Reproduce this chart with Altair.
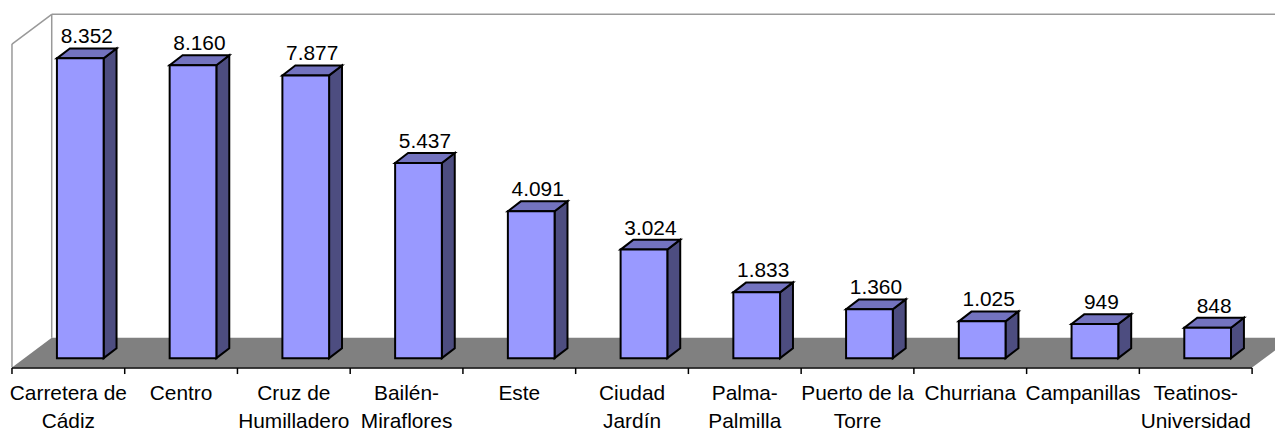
import altair as alt
import pandas as pd

categories = ["Carretera de\nCádiz", "Centro", "Cruz de\nHumilladero", "Bailén-\nMiraflores", "Este",
              "Ciudad\nJardín", "Palma-\nPalmilla", "Puerto de la\nTorre", "Churriana", "Campanillas",
              "Teatinos-\nUniversidad"]
values = [8352, 8160, 7877, 5437, 4091, 3024, 1833, 1360, 1025, 949, 848]

# ---- geometry (page pixels -> data units) ----
W, H = 1275, 427
X0, CAT = 12.0, 113.45      # floor front-left x, px per category
BASE, K = 359.0, 0.03612    # bar base (front plane) y, px per unit


def u(px):
    return (px - X0) / CAT


def v(py):
    return (BASE - py) / K


DU = u(X0 + 13) - u(X0)     # bar depth in x
DV = 10 / K                 # bar depth in y
HW = 23.5 / CAT             # bar half width
SHIFT = 12 / CAT            # bar plane shift vs floor front

xs = alt.Scale(domain=[u(8), u(8 + W)], nice=False, zero=False)
ys = alt.Scale(domain=[v(8 + H), v(8)], nice=False, zero=False)
FONT = "Liberation Sans"
FS = 21

# ---- bars ----
bars = pd.DataFrame({"i": range(len(values)), "val": values})
bars["uc"] = bars["i"] + 0.5 + SHIFT
bars["x0"] = bars["uc"] - HW
bars["x1"] = bars["uc"] + HW
bars["label"] = [f"{x:,}".replace(",", ".") for x in values]
bars["lx"] = bars["uc"] + DU / 2
bars["ly"] = bars["val"] + DV
bars["zero"] = 0.0

side_rows, top_rows = [], []
for _, r in bars.iterrows():
    side_rows.append({"b": r.i, "x": r.x1, "y": r.val, "y2": 0.0})
    side_rows.append({"b": r.i, "x": r.x1 + DU, "y": r.val + DV, "y2": DV})
    top_rows.append({"b": r.i, "y": r.val, "x": r.x0, "x2": r.x1})
    top_rows.append({"b": r.i, "y": r.val + DV, "x": r.x0 + DU, "x2": r.x1 + DU})
side = pd.DataFrame(side_rows)
top = pd.DataFrame(top_rows)

SW = 2.0
front = alt.Chart(bars).mark_rect(fill="#9999FF", stroke="black", strokeWidth=SW).encode(
    x=alt.X("x0:Q", scale=xs, axis=None), x2="x1:Q",
    y=alt.Y("zero:Q", scale=ys, axis=None), y2="val:Q")
side_m = alt.Chart(side).mark_area(fill="#4D4D80", stroke="black", strokeWidth=SW, opacity=1,
                                   strokeJoin="miter").encode(
    x=alt.X("x:Q", scale=xs, axis=None), y=alt.Y("y:Q", scale=ys, axis=None), y2="y2:Q",
    detail="b:N")
top_m = alt.Chart(top).mark_area(orient="horizontal", fill="#7373BF", stroke="black", strokeWidth=SW,
                                 opacity=1, strokeJoin="miter").encode(
    y=alt.Y("y:Q", scale=ys, axis=None), x=alt.X("x:Q", scale=xs, axis=None), x2="x2:Q",
    detail="b:N")
vlabels = alt.Chart(bars).mark_text(font=FONT, fontSize=FS, baseline="alphabetic", dy=-5,
                                    color="black").encode(
    x=alt.X("lx:Q", scale=xs, axis=None), y=alt.Y("ly:Q", scale=ys, axis=None), text="label:N")

# ---- walls & floor ----
n = len(values)
floor = pd.DataFrame([
    {"y": v(368.5), "x": u(12), "x2": u(1260)},
    {"y": v(338.5), "x": u(52), "x2": u(1300)},
])
floor_m = alt.Chart(floor).mark_area(orient="horizontal", fill="#808080", opacity=1, clip=True).encode(
    y=alt.Y("y:Q", scale=ys, axis=None), x=alt.X("x:Q", scale=xs, axis=None), x2="x2:Q")

walls = pd.DataFrame([
    {"x": u(52), "y": v(13), "x2": u(1290), "y2": v(13)},
    {"x": u(52), "y": v(13), "x2": u(52), "y2": v(338.5)},
    {"x": u(12), "y": v(43), "x2": u(52), "y2": v(13)},
    {"x": u(12), "y": v(43), "x2": u(12), "y2": v(368.5)},
])
walls_m = alt.Chart(walls).mark_rule(color="#999999", strokeWidth=1.5, clip=True).encode(
    x=alt.X("x:Q", scale=xs, axis=None), y=alt.Y("y:Q", scale=ys, axis=None), x2="x2:Q", y2="y2:Q")

axis = pd.DataFrame([{"x": u(12), "y": v(369), "x2": u(12) + n, "y2": v(369)}] +
                    [{"x": float(j), "y": v(369), "x2": float(j), "y2": v(375)} for j in range(n + 1)])
axis_m = alt.Chart(axis).mark_rule(color="black", strokeWidth=1.5).encode(
    x=alt.X("x:Q", scale=xs, axis=None), y=alt.Y("y:Q", scale=ys, axis=None), x2="x2:Q", y2="y2:Q")

lab_rows = []
for i, c in enumerate(categories):
    for j, line in enumerate(c.split("\n")):
        lab_rows.append({"x": i + 0.5, "y": v(400.7 + 28.6 * j), "t": line})
labs = pd.DataFrame(lab_rows)
cat_m = alt.Chart(labs).mark_text(font=FONT, fontSize=FS, baseline="alphabetic", color="black").encode(
    x=alt.X("x:Q", scale=xs, axis=None), y=alt.Y("y:Q", scale=ys, axis=None), text="t:N")

chart = alt.layer(walls_m, floor_m, side_m, top_m, front, vlabels, axis_m, cat_m).properties(
    width=W, height=H, autosize=alt.AutoSizeParams(type="none"), padding=0,
    background="white"
).configure_view(stroke=None)

chart.save("out.html", embed_options={"renderer": "svg", "actions": False})
